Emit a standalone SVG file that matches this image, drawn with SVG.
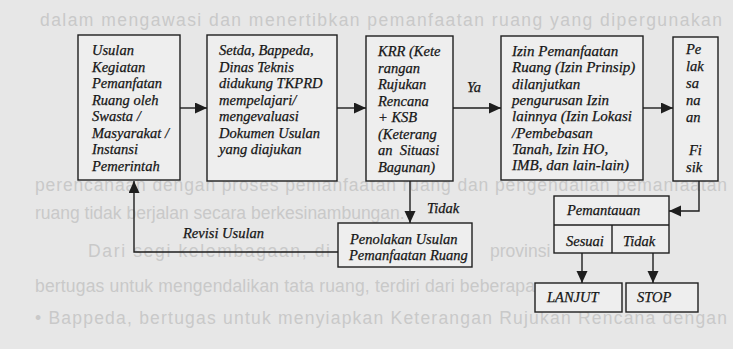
<svg xmlns="http://www.w3.org/2000/svg" width="733" height="349" viewBox="0 0 733 349">
<style>
  .page { fill: #e7e7e7; }
  .bg { font-family: "Liberation Sans", Arial, sans-serif; font-size: 17.5px; fill: #c9c9c9; }
  .box { fill: #eeeeee; stroke: #1e1e1e; stroke-width: 1.4; }
  .ln { fill: none; stroke: #1e1e1e; stroke-width: 1.4; }
  .t { font-family: "Liberation Serif", "Times New Roman", serif; font-style: italic; font-size: 14.5px; fill: #151515; stroke: #151515; stroke-width: 0.25; }
  .t15 { font-size: 15px; }
</style>
<defs>
  <marker id="ah" markerUnits="userSpaceOnUse" markerWidth="13" markerHeight="12" refX="12" refY="5.5" orient="auto">
    <path d="M0,0 L12,5.5 L0,11 Z" fill="#1e1e1e"/>
  </marker>
</defs>
<rect class="page" x="0" y="0" width="733" height="349"/>

<g id="background-text">
  <text class="bg" x="40" y="26" textLength="682" lengthAdjust="spacing">dalam mengawasi dan menertibkan pemanfaatan ruang yang dipergunakan</text>
  <text class="bg" x="35" y="191" textLength="692" lengthAdjust="spacing">perencanaan dengan proses pemanfaatan ruang dan pengendalian pemanfaatan</text>
  <text class="bg" x="35" y="219">ruang tidak berjalan secara berkesinambungan.</text>
  <text class="bg" x="88" y="257" textLength="242" lengthAdjust="spacing">Dari segi kelembagaan, di</text>
  <text class="bg" x="490" y="257">provinsi</text>
  <text class="bg" x="35" y="292" textLength="500" lengthAdjust="spacing">bertugas untuk mengendalikan tata ruang, terdiri dari beberapa</text>
  <text class="bg" x="35" y="324" textLength="692" lengthAdjust="spacing">• Bappeda, bertugas untuk menyiapkan Keterangan Rujukan Rencana dengan</text>
</g>

<g id="connectors">
  <line class="ln" x1="180" y1="108" x2="207" y2="108" marker-end="url(#ah)"/>
  <line class="ln" x1="337" y1="108" x2="366" y2="108" marker-end="url(#ah)"/>
  <line class="ln" x1="453" y1="108" x2="501" y2="108" marker-end="url(#ah)"/>
  <line class="ln" x1="643" y1="108" x2="673" y2="108" marker-end="url(#ah)"/>
  <line class="ln" x1="410" y1="181" x2="410" y2="223" marker-end="url(#ah)"/>
  <polyline class="ln" points="338,252 134,252 134,181" marker-end="url(#ah)"/>
  <polyline class="ln" points="699,181 699,211 669,211" marker-end="url(#ah)"/>
  <line class="ln" x1="582" y1="253" x2="582" y2="283" marker-end="url(#ah)"/>
  <line class="ln" x1="653" y1="253" x2="653" y2="283" marker-end="url(#ah)"/>
  <text class="t" x="467" y="92">Ya</text>
  <text class="t" x="427" y="213">Tidak</text>
  <text class="t" x="183" y="238">Revisi Usulan</text>
</g>

<g id="usulan">
  <rect class="box" x="78" y="35" width="102" height="145"/>
  <text class="t" x="92" y="55">Usulan</text>
  <text class="t" x="92" y="71.5">Kegiatan</text>
  <text class="t" x="92" y="88">Pemanfatan</text>
  <text class="t" x="92" y="104.5">Ruang oleh</text>
  <text class="t" x="92" y="121">Swasta /</text>
  <text class="t" x="92" y="137.5">Masyarakat /</text>
  <text class="t" x="92" y="154">Instansi</text>
  <text class="t" x="92" y="170.5">Pemerintah</text>
</g>

<g id="setda">
  <rect class="box" x="207" y="35" width="130" height="146"/>
  <text class="t" x="219" y="55">Setda, Bappeda,</text>
  <text class="t" x="219" y="71.5">Dinas Teknis</text>
  <text class="t" x="219" y="88">didukung TKPRD</text>
  <text class="t" x="219" y="104.5">mempelajari/</text>
  <text class="t" x="219" y="121">mengevaluasi</text>
  <text class="t" x="219" y="137.5">Dokumen Usulan</text>
  <text class="t" x="219" y="154">yang diajukan</text>
</g>

<g id="krr">
  <rect class="box" x="366" y="36" width="87" height="145"/>
  <text class="t" x="378" y="56">KRR (Kete</text>
  <text class="t" x="378" y="72.5">rangan</text>
  <text class="t" x="378" y="89">Rujukan</text>
  <text class="t" x="378" y="105.5">Rencana</text>
  <text class="t" x="378" y="122">+ KSB</text>
  <text class="t" x="378" y="138.5">(Keterang</text>
  <text class="t" x="378" y="155" xml:space="preserve">an  Situasi</text>
  <text class="t" x="378" y="171.5">Bagunan)</text>
</g>

<g id="izin">
  <rect class="box" x="501" y="36" width="142" height="144"/>
  <text class="t t15" x="512" y="56">Izin Pemanfaatan</text>
  <text class="t t15" x="512" y="72.3">Ruang (Izin Prinsip)</text>
  <text class="t t15" x="512" y="88.6">dilanjutkan</text>
  <text class="t t15" x="512" y="104.9">pengurusan Izin</text>
  <text class="t t15" x="512" y="121.2">lainnya (Izin Lokasi</text>
  <text class="t t15" x="512" y="137.5">/Pembebasan</text>
  <text class="t t15" x="512" y="153.8">Tanah, Izin HO,</text>
  <text class="t t15" x="512" y="170.1">IMB, dan lain-lain)</text>
</g>

<g id="pelaksanaan">
  <rect class="box" x="673" y="37" width="45" height="144"/>
  <text class="t" x="686" y="54">Pe</text>
  <text class="t" x="686" y="71">lak</text>
  <text class="t" x="686" y="88">sa</text>
  <text class="t" x="686" y="105">na</text>
  <text class="t" x="686" y="122">an</text>
  <text class="t" x="689" y="155">Fi</text>
  <text class="t" x="686" y="172">sik</text>
</g>

<g id="penolakan">
  <rect class="box" x="338" y="223" width="134" height="44"/>
  <text class="t" x="350" y="244">Penolakan Usulan</text>
  <text class="t" x="349" y="260">Pemanfaatan Ruang</text>
</g>

<g id="pemantauan">
  <rect class="box" x="554" y="196" width="115" height="57"/>
  <line class="ln" x1="554" y1="225" x2="669" y2="225"/>
  <line class="ln" x1="612" y1="225" x2="612" y2="253"/>
  <text class="t" x="567" y="215">Pemantauan</text>
  <text class="t" x="566" y="246">Sesuai</text>
  <text class="t" x="623" y="246">Tidak</text>
</g>

<g id="lanjut">
  <rect class="box" x="535" y="283" width="87" height="29"/>
  <text class="t" x="547" y="302">LANJUT</text>
</g>

<g id="stop">
  <rect class="box" x="626" y="283" width="72" height="29"/>
  <text class="t" x="637" y="302">STOP</text>
</g>
</svg>
